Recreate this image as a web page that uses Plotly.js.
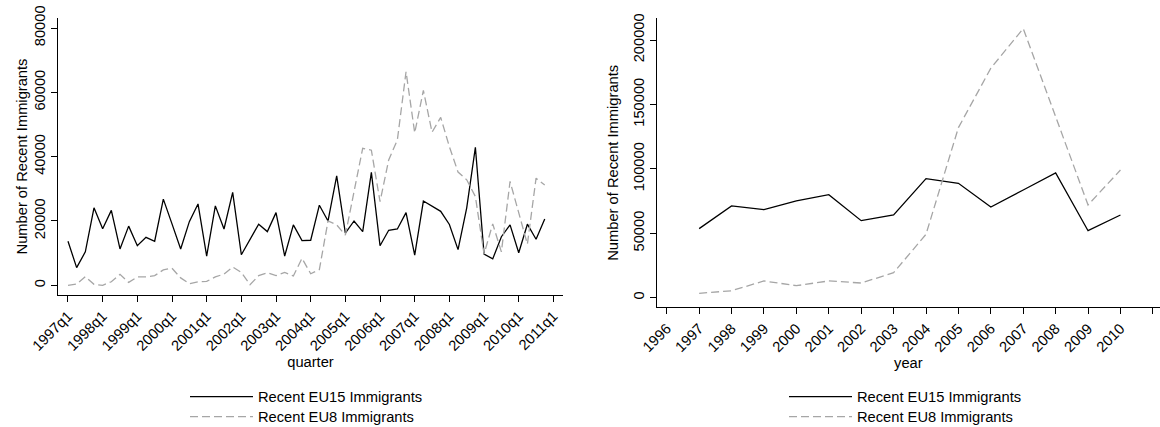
<!DOCTYPE html>
<html>
<head>
<meta charset="utf-8">
<script src="https://cdn.plot.ly/plotly-3.0.1.min.js"></script>
<style>
html,body{margin:0;padding:0;background:#fff;}
#chart{width:1160px;height:427px;}
</style>
</head>
<body>
<div id="chart"></div>
<script>
// ---- Quarterly data (left panel) ----
const quarters = [
 "1997q1","1997q2","1997q3","1997q4","1998q1","1998q2","1998q3","1998q4",
 "1999q1","1999q2","1999q3","1999q4","2000q1","2000q2","2000q3","2000q4",
 "2001q1","2001q2","2001q3","2001q4","2002q1","2002q2","2002q3","2002q4",
 "2003q1","2003q2","2003q3","2003q4","2004q1","2004q2","2004q3","2004q4",
 "2005q1","2005q2","2005q3","2005q4","2006q1","2006q2","2006q3","2006q4",
 "2007q1","2007q2","2007q3","2007q4","2008q1","2008q2","2008q3","2008q4",
 "2009q1","2009q2","2009q3","2009q4","2010q1","2010q2","2010q3","2010q4"
];
const eu15Quarterly = [
 13700, 5500, 10400, 24100, 17600, 23300, 11300, 18400,
 12300, 14900, 13700, 26800, 19100, 11300, 19800, 25300,
 9100, 24700, 17500, 28900, 9500, 14300, 19000, 16700,
 22600, 9100, 18800, 13900, 14000, 24900, 20000, 34000,
 16200, 20000, 16700, 35100, 12300, 17100, 17500, 22600,
 9400, 26200, 24500, 23000, 18900, 11100, 24100, 42900,
 9700, 8200, 15100, 18800, 10100, 19000, 14300, 20600
];
const eu8Quarterly = [
 0, 400, 2700, 300, 0, 1100, 3400, 900,
 2600, 2600, 3000, 4800, 5300, 2300, 500, 1100,
 1200, 2600, 3500, 5700, 4000, 200, 3000, 3900,
 3000, 4000, 2900, 8400, 3600, 4900, 20000, 18800,
 15600, 29000, 42600, 42000, 26000, 39000, 45200, 66400,
 47400, 60600, 47600, 52200, 43100, 35200, 32800, 27600,
 9700, 19100, 10400, 32300, 22400, 12800, 33300, 31200
];
const quarterTickVals = [1997,1998,1999,2000,2001,2002,2003,2004,2005,2006,2007,2008,2009,2010,2011];
const quarterTickText = ["1997q1","1998q1","1999q1","2000q1","2001q1","2002q1","2003q1","2004q1","2005q1","2006q1","2007q1","2008q1","2009q1","2010q1","2011q1"];
const leftYTicks = [0, 20000, 40000, 60000, 80000];

// ---- Annual data (right panel) ----
const years = [1997,1998,1999,2000,2001,2002,2003,2004,2005,2006,2007,2008,2009,2010];
const eu15Annual = [53600, 71200, 68300, 75100, 80000, 59800, 64200, 92400, 88800, 70400, 83600, 96800, 52000, 64200];
const eu8Annual  = [3400, 5400, 13000, 9300, 13000, 11400, 19400, 49200, 132000, 178100, 208900, 140500, 72000, 99100];
const yearTickVals = [1996,1997,1998,1999,2000,2001,2002,2003,2004,2005,2006,2007,2008,2009,2010,2011];
const rightYTicks = [0, 50000, 100000, 150000, 200000];

const seriesNames = ["Recent EU15 Immigrants", "Recent EU8 Immigrants"];

// quarter label -> decimal position on a numeric axis
const quarterPos = quarters.map(q => parseInt(q.slice(0,4)) + (parseInt(q.slice(5)) - 1) / 4);

const FONT = 'Liberation Sans, Arial, Helvetica, sans-serif';
const FS = 14.7;
const solid = {color:'#000000', width:1.3, dash:'solid'};
const dashed = {color:'#a6a6a6', width:1.3, dash:'8px,4px'};

const traces = [
 {x: quarterPos, y: eu15Quarterly, type:'scatter', mode:'lines', name: seriesNames[0], line: solid, xaxis:'x', yaxis:'y', legend:'legend'},
 {x: quarterPos, y: eu8Quarterly, type:'scatter', mode:'lines', name: seriesNames[1], line: dashed, xaxis:'x', yaxis:'y', legend:'legend2'},
 {x: years, y: eu15Annual, type:'scatter', mode:'lines', name: seriesNames[0], line: solid, xaxis:'x2', yaxis:'y2', legend:'legend3'},
 {x: years, y: eu8Annual, type:'scatter', mode:'lines', name: seriesNames[1], line: dashed, xaxis:'x2', yaxis:'y2', legend:'legend4'}
];

function xAxis(domain, range, tv, tt, anchor, title, standoff) {
  return {
    domain: domain, range: range, anchor: anchor,
    tickmode:'array', tickvals: tv, ticktext: tt,
    tickangle: -45, ticks:'outside', ticklen:6, tickwidth:1, tickcolor:'#000',
    showline:true, linecolor:'#000', linewidth:1,
    showgrid:false, zeroline:false,
    tickfont:{family:FONT, size:FS, color:'#000'},
    title:{text:title, font:{family:FONT, size:FS, color:'#000'}, standoff: standoff},
    automargin:false, fixedrange:true
  };
}
function yAxis(domain, range, tv, anchor, standoff) {
  return {
    domain: domain, range: range, anchor: anchor,
    tickmode:'array', tickvals: tv, ticktext: tv.map(v => String(v)),
    tickangle: -90, ticks:'outside', ticklen:6, tickwidth:1, tickcolor:'#000',
    showline:true, linecolor:'#000', linewidth:1,
    showgrid:false, zeroline:false,
    tickfont:{family:FONT, size:FS, color:'#000'},
    title:{text:'Number of Recent Immigrants', font:{family:FONT, size:FS, color:'#000'}, standoff: standoff},
    automargin:false, fixedrange:true
  };
}
function legendAt(xpx, ypx) {
  return {x: xpx/W, y: (H-ypx)/H, xanchor:'left', yanchor:'middle', orientation:'v',
          itemwidth: 63, bgcolor:'rgba(0,0,0,0)', borderwidth:0,
          font:{family:FONT, size:FS, color:'#000'}};
}

const W = 1160, H = 427;
const layout = {
  width: W, height: H,
  margin:{l:0, r:0, t:0, b:0, pad:0, autoexpand:false},
  paper_bgcolor:'#fff', plot_bgcolor:'#fff',
  font:{family:FONT, size:FS, color:'#000'},
  showlegend:true,
  xaxis:  xAxis([58/W, 563/W], [1996.712, 2011.277], quarterTickVals, quarterTickText, 'y', 'quarter', 3),
  yaxis:  yAxis([(H-294.7)/H, (H-18.3)/H], [-2924, 83017], leftYTicks, 'x', 0),
  xaxis2: xAxis([656.7/W, 1], [1995.69, 2011.22], yearTickVals, yearTickVals.map(String), 'y2', 'year', 1),
  yaxis2: yAxis([(H-307.3)/H, (H-18.3)/H], [-7453, 216850], rightYTicks, 'x2', 8),
  legend:  legendAt(185, 397),
  legend2: legendAt(185, 417),
  legend3: legendAt(784, 397),
  legend4: legendAt(784, 417)
};

Plotly.newPlot('chart', traces, layout, {staticPlot:true, displayModeBar:false});
</script>
</body>
</html>
